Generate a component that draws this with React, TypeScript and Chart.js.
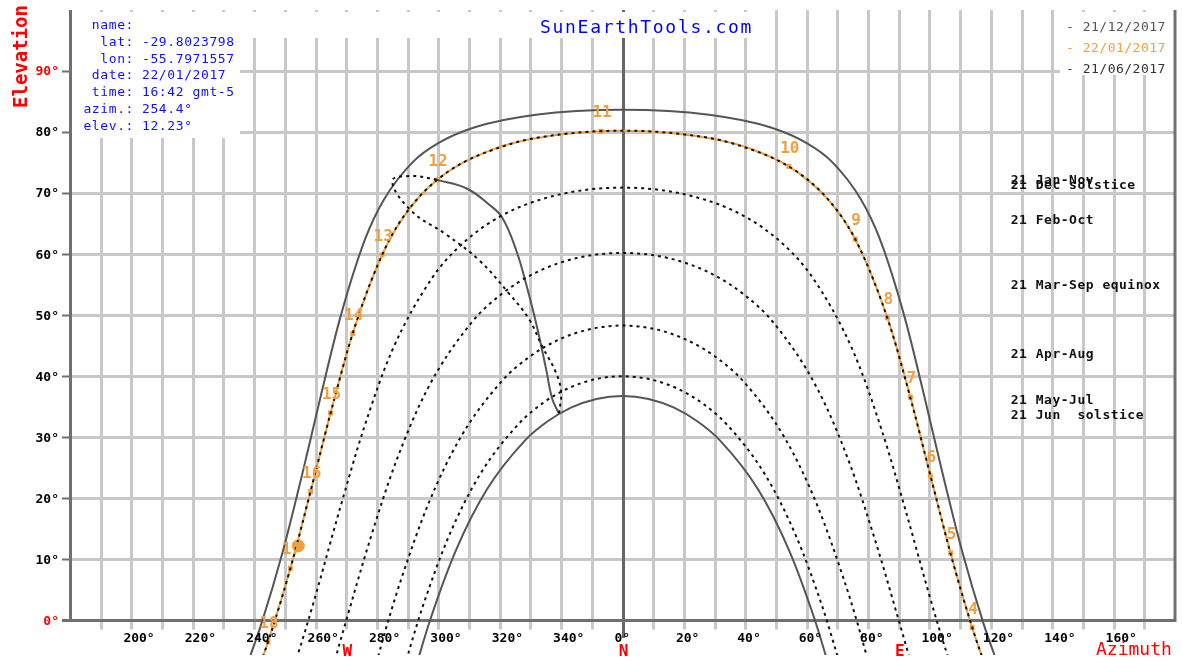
import React, { useEffect, useRef } from "react";
import { Chart, registerables } from "chart.js";

Chart.register(...registerables);

type P = [number, number];

// Sun paths: [azimuth (deg, 0 = North, east positive), elevation (deg)]
const dec21Path: P[] = [
  [-121.5, -6.14], [-117.6, -0.48], [-110.6, 11.4], [-104.4, 23.82], [-98.4, 36.57], [-92.0, 49.52],
  [-83.8, 62.53], [-77.7, 68.96], [-68.1, 75.2], [-60.3, 78.12], [-48.1, 80.79], [-28.2, 82.84],
  [0, 83.66], [28.2, 82.84], [48.1, 80.79], [60.3, 78.12], [68.1, 75.2], [77.7, 68.96], [83.8, 62.53],
  [92.0, 49.52], [98.4, 36.57], [104.4, 23.82], [110.6, 11.4], [117.6, -0.48], [121.5, -6.14],
];

const jan22Path: P[] = [
  [-117.9, -7.02], [-115.5, -3.53], [-108.2, 8.55], [-101.6, 21.12], [-95.1, 33.99], [-87.9, 46.99],
  [-78.3, 59.9], [-71.2, 66.2], [-60.4, 72.17], [-41.6, 77.29], [-23.0, 79.42], [-7.0, 80.13],
  [0, 80.2], [15.4, 79.86], [30.2, 78.81], [41.6, 77.29], [54.2, 74.37], [67.5, 68.65], [75.8, 62.46],
  [86.3, 49.59], [93.8, 36.59], [100.3, 23.68], [106.9, 11.03], [113.9, -1.17], [117.9, -7.02],
];

const jun21Path: P[] = [
  [-69.4, -11.4], [-66.0, -5.38], [-62.4, 0.48], [-54.2, 11.56], [-44.2, 21.43], [-31.8, 29.46],
  [-24.6, 32.54], [-16.8, 34.85], [-8.5, 36.28], [0, 36.76], [8.5, 36.28], [16.8, 34.85], [24.6, 32.54],
  [31.8, 29.46], [44.2, 21.43], [54.2, 11.56], [62.4, 0.48], [66.0, -5.38], [69.4, -11.4],
];

const janNovPath: P[] = [
  [-118.7, -8.17], [-114.7, -2.36], [-107.5, 9.79], [-101.0, 22.4], [-94.4, 35.3], [-87.1, 48.3],
  [-77.1, 61.19], [-69.5, 67.43], [-57.5, 73.29], [-36.2, 78.09], [-19.3, 79.67], [0, 80.23],
  [19.3, 79.67], [36.2, 78.09], [57.5, 73.29], [69.5, 67.43], [77.1, 61.19], [87.1, 48.3], [94.4, 35.3],
  [101.0, 22.4], [107.5, 9.79], [114.7, -2.36], [118.7, -8.17],
];

const febOctPath: P[] = [
  [-106.9, -7.38], [-103.0, -1.09], [-99.3, 5.3], [-92.1, 18.24], [-84.4, 31.25], [-75.2, 44.04],
  [-61.9, 56.19], [-52.3, 61.65], [-39.3, 66.33], [-21.6, 69.65], [0, 70.9], [21.6, 69.65], [39.3, 66.33],
  [52.3, 61.65], [61.9, 56.19], [75.2, 44.04], [84.4, 31.25], [92.1, 18.24], [99.3, 5.3], [103.0, -1.09],
  [106.9, -7.38],
];

const equinoxPath: P[] = [
  [-93.7, -6.5], [-90, 0], [-82.4, 12.98], [-74.0, 25.72], [-63.6, 37.85], [-49.3, 48.72], [-39.8, 53.3],
  [-28.4, 56.95], [-14.9, 59.36], [0, 60.2], [14.9, 59.36], [28.4, 56.95], [39.8, 53.3], [49.3, 48.72],
  [63.6, 37.85], [74.0, 25.72], [82.4, 12.98], [90, 0], [93.7, -6.5],
];

const aprAugPath: P[] = [
  [-79.6, -5.88], [-76.0, 0.48], [-72.1, 6.74], [-63.5, 18.79], [-52.9, 29.86], [-39.2, 39.26],
  [-30.8, 43.0], [-21.3, 45.86], [-11.0, 47.67], [0, 48.3], [11.0, 47.67], [21.3, 45.86], [30.8, 43.0],
  [39.2, 39.26], [52.9, 29.86], [63.5, 18.79], [72.1, 6.74], [76.0, 0.48], [79.6, -5.88],
];

const mayJulPath: P[] = [
  [-72.3, -9.88], [-68.8, -3.74], [-65.1, 2.25], [-56.7, 13.63], [-46.5, 23.85], [-33.7, 32.25],
  [-26.2, 35.51], [-18.0, 37.95], [-9.1, 39.48], [0, 40.0], [9.1, 39.48], [18.0, 37.95], [26.2, 35.51],
  [33.7, 32.25], [46.5, 23.85], [56.7, 13.63], [65.1, 2.25], [68.8, -3.74], [72.3, -9.88],
];

// 12:00 analemma
const analemmaSolid: P[] = [
  [-60.4, 72.17], [-50.9, 70.8], [-43.4, 68.1], [-39.2, 66.0], [-34.6, 60.6], [-31.4, 55.1],
  [-28.1, 48.6], [-24.9, 41.2], [-22.9, 36.3], [-20.7, 33.9],
];
const analemmaDotted: P[] = [
  [-20.7, 33.9], [-20.0, 37.3], [-21.6, 40.5], [-26.2, 44.9], [-30.4, 49.3], [-36.9, 53.5],
  [-46.7, 59.0], [-57.4, 63.2], [-68.8, 67.1], [-75.0, 72.0], [-68.5, 72.8], [-60.4, 72.17],
];

// Hour marks on 22/01/2017
const hourNumbers = ["4", "5", "6", "7", "8", "9", "10", "11", "12", "13", "14", "15", "16", "17", "18"];
const hourPoints: P[] = [
  [113.9, -1.17], [106.9, 11.03], [100.3, 23.68], [93.8, 36.59], [86.3, 49.59], [75.8, 62.46],
  [54.2, 74.37], [-7.0, 80.13], [-60.4, 72.17], [-78.3, 59.9], [-87.9, 46.99], [-95.1, 33.99],
  [-101.6, 21.12], [-108.2, 8.55], [-115.5, -3.53],
];
const currentPosition: P = [-105.6, 12.23];

const seasonLabels = ["21 Jan-Nov", "21 Dec solstice", "21 Feb-Oct", "21 Mar-Sep equinox", "21 Apr-Aug", "21 May-Jul", "21 Jun  solstice"];
const seasonLabelElev = [72.0, 71.2, 65.5, 54.9, 43.6, 36.0, 33.5];
const seasonLabelAz = 126.5;

const elevTicks = [0, 10, 20, 30, 40, 50, 60, 70, 80, 90];
const elevTickLabels = ["0°", "10°", "20°", "30°", "40°", "50°", "60°", "70°", "80°", "90°"];
const azTicks = [-160, -140, -120, -100, -80, -60, -40, -20, 0, 20, 40, 60, 80, 100, 120, 140, 160];
const azTickLabels = ["200°", "220°", "240°", "260°", "280°", "300°", "320°", "340°", "0°", "20°", "40°", "60°", "80°", "100°", "120°", "140°", "160°"];
const compassLabels = ["W", "N", "E"];
const compassAz = [-90, 0, 90];

const infoKeys = ["name:", "lat:", "lon:", "date:", "time:", "azim.:", "elev.:"];
const infoValues = ["", "-29.8023798", "-55.7971557", "22/01/2017", "16:42 gmt-5", "254.4°", "12.23°"];
const legendDates = ["21/12/2017", "22/01/2017", "21/06/2017"];

const GREY = "#555555";
const ORANGE = "#f0a040";
const DOT = "#111111";
const GRID = "#c8c8c8";
const AXIS = "#707070";
const BLUE = "#1010ff";
const RED = "#ff0000";
const MONO = '"DejaVu Sans Mono", monospace';
const DASH = [3, 4];

const decor = {
  id: "decor",
  beforeDatasetsDraw(chart: any) {
    const { ctx } = chart;
    const x = chart.scales.x;
    const y = chart.scales.y;
    const ca = chart.chartArea;
    const top = Math.round(y.getPixelForValue(100));
    const stubBottom = y.getPixelForValue(-1.5);
    const y0 = Math.round(y.getPixelForValue(0)) + 0.5;
    ctx.save();
    ctx.fillStyle = "#ffffff";
    ctx.fillRect(0, 0, chart.width, chart.height);
    const line = (x1: number, y1: number, x2: number, y2: number) => {
      ctx.beginPath();
      ctx.moveTo(x1, y1);
      ctx.lineTo(x2, y2);
      ctx.stroke();
    };
    ctx.strokeStyle = GRID;
    ctx.lineWidth = 3;
    for (let a = -170; a <= 170; a += 10) {
      if (a === 0) continue;
      const px = Math.round(x.getPixelForValue(a)) + 0.5;
      line(px, top, px, stubBottom);
    }
    for (let e = 10; e <= 90; e += 10) {
      const py = Math.round(y.getPixelForValue(e)) + 0.5;
      line(ca.left, py, ca.right, py);
    }
    // North line
    ctx.strokeStyle = "#666666";
    const nx = Math.round(x.getPixelForValue(0)) + 0.5;
    line(nx, top, nx, y.getPixelForValue(-2.9));
    // white boxes (info, title band, legend)
    ctx.fillStyle = "#ffffff";
    ctx.fillRect(72, top + 2, 168, 126);
    ctx.fillRect(240, top + 2, 515, 26);
    ctx.fillRect(1060, top + 2, 115, 63);
    // axes
    ctx.strokeStyle = AXIS;
    ctx.lineWidth = 3;
    line(ca.left + 0.5, top, ca.left + 0.5, y0);
    line(ca.right, top, ca.right, y0 + 1.5);
    line(ca.left - 8, y0, ca.right, y0);
    ctx.lineWidth = 2;
    for (const e of elevTicks) {
      const py = Math.round(y.getPixelForValue(e)) + 0.5;
      line(ca.left - 8, py, ca.left, py);
    }
    ctx.restore();
  },
  afterDatasetsDraw(chart: any) {
    const { ctx } = chart;
    const x = chart.scales.x;
    const y = chart.scales.y;
    ctx.save();
    const ls = (v: string) => ((ctx as any).letterSpacing = v);

    // hour labels
    ctx.fillStyle = ORANGE;
    ctx.font = `bold 16px ${MONO}`;
    ctx.textAlign = "center";
    ctx.textBaseline = "middle";
    hourPoints.forEach((p, i) => {
      ctx.fillText(hourNumbers[i], x.getPixelForValue(p[0]) + 1, y.getPixelForValue(p[1]) - 18);
    });

    // title
    ls("1.7px");
    ctx.fillStyle = "#0000ff";
    ctx.font = `18px ${MONO}`;
    ctx.textAlign = "left";
    ctx.textBaseline = "alphabetic";
    ctx.fillText("SunEarthTools.com", 540, 33);

    // info box
    ls("0.6px");
    ctx.font = `13px ${MONO}`;
    ctx.fillStyle = BLUE;
    infoKeys.forEach((k, i) => {
      const by = 29 + i * 16.8;
      ctx.textAlign = "right";
      ctx.fillText(k, 134, by);
      ctx.textAlign = "left";
      ctx.fillText(infoValues[i], 142, by);
    });

    // legend
    const legendColors = ["#555555", ORANGE, "#333333"];
    ls("0.5px");
    ctx.textAlign = "left";
    legendDates.forEach((d, i) => {
      ctx.fillStyle = legendColors[i];
      ctx.fillText("- " + d, 1066, 31 + i * 21);
    });

    // season labels
    ctx.font = `bold 13px ${MONO}`;
    ctx.fillStyle = DOT;
    ctx.textBaseline = "middle";
    seasonLabels.forEach((t, i) => {
      ctx.fillText(t, x.getPixelForValue(seasonLabelAz), y.getPixelForValue(seasonLabelElev[i]));
    });

    // y tick labels
    ls("0px");
    ctx.textAlign = "right";
    elevTicks.forEach((e, i) => {
      ctx.fillStyle = e === 0 || e === 90 ? RED : "#000000";
      ctx.fillText(elevTickLabels[i], 59, y.getPixelForValue(e) + 1);
    });

    // x tick labels
    ctx.textAlign = "left";
    ctx.fillStyle = "#000000";
    azTicks.forEach((a, i) => {
      ctx.fillText(azTickLabels[i], x.getPixelForValue(a) - 8, 639);
    });

    // compass
    ctx.fillStyle = RED;
    ctx.font = `bold 16px ${MONO}`;
    ctx.textAlign = "center";
    compassLabels.forEach((c, i) => {
      ctx.fillText(c, x.getPixelForValue(compassAz[i]) + 1, 652);
    });

    // Azimuth
    ctx.font = `18px ${MONO}`;
    ctx.textAlign = "left";
    ctx.fillText("Azimuth", 1096, 650);

    // Elevation
    ctx.save();
    ctx.translate(27, 108);
    ctx.rotate(-Math.PI / 2);
    ctx.font = `bold 19px ${MONO}`;
    ctx.textBaseline = "alphabetic";
    ctx.fillText("Elevation", 0, 0);
    ctx.restore();

    // footer (mostly cut off at the bottom edge)
    ctx.fillStyle = "#999999";
    ctx.font = `bold 20px ${MONO}`;
    ctx.textBaseline = "top";
    ls("1.5px");
    ctx.fillText("SUN EARTH TOOLS.com", 88, 661);
    ctx.restore();
  },
};

const toXY = (a: P[]) => a.map(([px, py]) => ({ x: px, y: py }));

const dottedSet = (data: P[]) => ({
  data: toXY(data),
  showLine: true,
  borderColor: DOT,
  borderWidth: 2,
  borderDash: DASH,
  pointRadius: 0,
  cubicInterpolationMode: "monotone" as const,
});

export default function App() {
  const ref = useRef<HTMLCanvasElement>(null);
  useEffect(() => {
    document.body.style.margin = "0";
    const chart = new Chart(ref.current as HTMLCanvasElement, {
      type: "scatter",
      data: {
        datasets: [
          dottedSet(janNovPath),
          dottedSet(febOctPath),
          dottedSet(equinoxPath),
          dottedSet(aprAugPath),
          dottedSet(mayJulPath),
          {
            data: toXY(analemmaDotted),
            showLine: true,
            borderColor: DOT,
            borderWidth: 2,
            borderDash: DASH,
            pointRadius: 0,
            tension: 0.4,
          },
          {
            data: toXY(analemmaSolid),
            showLine: true,
            borderColor: GREY,
            borderWidth: 2,
            pointRadius: 0,
            tension: 0.4,
          },
          {
            data: toXY(dec21Path),
            showLine: true,
            borderColor: GREY,
            borderWidth: 2,
            pointRadius: 0,
            cubicInterpolationMode: "monotone",
          },
          {
            data: toXY(jun21Path),
            showLine: true,
            borderColor: GREY,
            borderWidth: 2,
            pointRadius: 0,
            cubicInterpolationMode: "monotone",
          },
          {
            data: toXY(jan22Path),
            showLine: true,
            borderColor: ORANGE,
            borderWidth: 2,
            pointRadius: 0,
            cubicInterpolationMode: "monotone",
          },
          {
            data: toXY(hourPoints),
            showLine: false,
            pointStyle: "rect",
            pointRadius: 3.5,
            backgroundColor: ORANGE,
            borderColor: ORANGE,
            borderWidth: 0,
          },
          {
            data: toXY([currentPosition]),
            showLine: false,
            pointRadius: 6,
            backgroundColor: ORANGE,
            borderColor: ORANGE,
          },
        ] as any,
      },
      options: {
        animation: false,
        responsive: false,
        maintainAspectRatio: false,
        events: [],
        layout: { padding: { left: 70, right: 5, top: 10, bottom: 0 } },
        scales: {
          x: { type: "linear", min: -180, max: 180, display: false },
          y: { type: "linear", min: -5.67, max: 100, display: false },
        },
        plugins: { legend: { display: false }, tooltip: { enabled: false } },
      },
      plugins: [decor],
    });
    return () => chart.destroy();
  }, []);
  return (
    <canvas
      ref={ref}
      width={1182}
      height={662}
      style={{ display: "block", width: 1182, height: 662 }}
    />
  );
}
